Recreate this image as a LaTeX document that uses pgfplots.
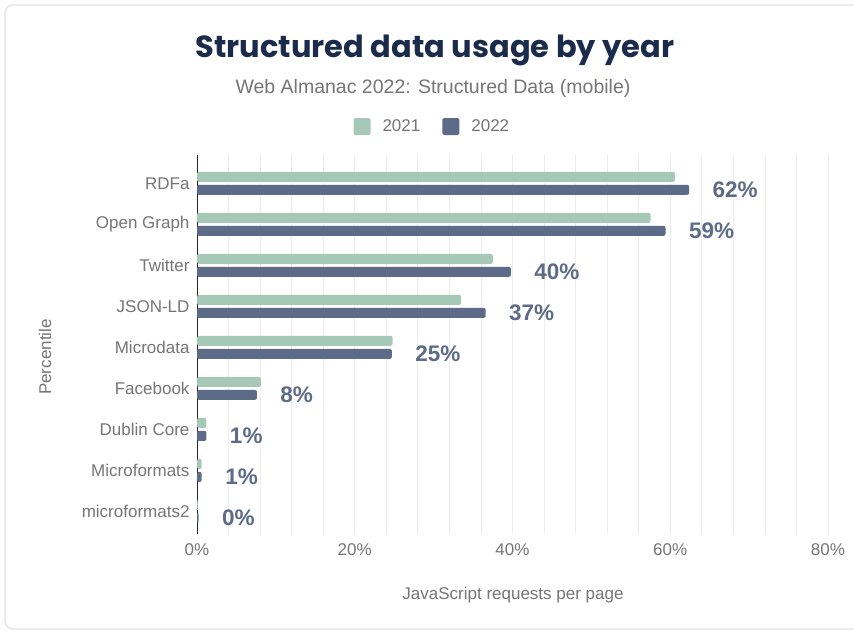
\documentclass[border=0pt]{standalone}
\usepackage{pgfplots}
\pgfplotsset{compat=1.18}
\usepackage{fontspec}
\setmainfont{Liberation Sans}
\newfontfamily\titlefont{Poppins}
\definecolor{c2021}{HTML}{A6C8B7}
\definecolor{c2022}{HTML}{5C6B87}
\definecolor{titlec}{HTML}{1A2B4B}
\definecolor{txtgray}{HTML}{757575}
\definecolor{gridc}{HTML}{EDEDED}
\begin{document}
\begin{tikzpicture}
\useasboundingbox (0pt,0pt) rectangle (854pt,632pt);
\draw[black!12, line width=1.2pt, rounded corners=8pt] (5pt,3pt) rectangle (880pt,627pt);
\node[font=\titlefont\bfseries\fontsize{30.5}{36}\selectfont, text=titlec] at (435pt,582pt) {Structured data usage by year};
\node[font=\fontsize{19.5}{23}\selectfont, text=txtgray] at (433pt,544pt) {Web Almanac 2022: Structured Data (mobile)};
\node[font=\fontsize{17}{20}\selectfont, text=txtgray] at (513pt,37pt) {JavaScript requests per page};
\node[font=\fontsize{17}{20}\selectfont, text=txtgray, rotate=90] at (45pt,275pt) {Percentile};
\begin{axis}[
  at={(197pt,98pt)}, anchor=south west,
  scale only axis, width=631pt, height=379pt,
  xbar, bar width=10pt,
  xmin=0, xmax=80, ymin=-0.55, ymax=8.69,
  xtick={0,20,40,60,80},
  minor x tick num=4,
  xmajorgrids, xminorgrids,
  major grid style={gridc, line width=0.8pt},
  minor grid style={gridc, line width=0.8pt},
  major tick length=0pt, minor tick length=0pt,
  axis y line*=left, axis x line*=bottom,
  x axis line style={draw=none},
  y axis line style={black!85, line width=0.9pt},
  ytick={0,...,8},
  yticklabels={microformats2,Microformats,Dublin Core,Facebook,Microdata,JSON-LD,Twitter,Open Graph,RDFa},
  xticklabel={\pgfmathprintnumber{\tick}\%},
  /pgf/number format/assume math mode=true,
  tick label style={font=\fontsize{17}{20}\selectfont, text=txtgray},
  xticklabel style={yshift=-6pt},
  yticklabel style={xshift=-4pt},
  legend style={at={(0.373,1.075)}, anchor=center, draw=none, fill=none, legend columns=2,
    font=\fontsize{17}{20}\selectfont, text=txtgray,
    /tikz/every odd column/.append style={column sep=10pt},
    /tikz/every even column/.append style={column sep=20pt}},
  legend image code/.code={\path[#1, draw=none, rounded corners=1.5pt] (0pt,-8.5pt) rectangle (17pt,8.5pt);},
  clip=false,
]
\addplot[fill=c2021, draw=none, bar shift=6.5pt, rounded corners=2pt] coordinates {
(60.6,8) (57.5,7) (37.5,6) (33.5,5) (24.8,4) (8.1,3) (1.2,2) (0.6,1) (0.1,0)};
\addlegendentry{2021}
\addplot[fill=c2022, draw=none, bar shift=-6.5pt, rounded corners=2pt,
  nodes near coords={\pgfmathprintnumber[fixed,precision=0]{\pgfplotspointmeta}\%},
  nodes near coords style={anchor=west, xshift=20pt, font=\bfseries\fontsize{22.5}{26}\selectfont, text=c2022},
  point meta=x] coordinates {
(62.4,8) (59.4,7) (39.8,6) (36.6,5) (24.7,4) (7.6,3) (1.2,2) (0.6,1) (0.2,0)};
\addlegendentry{2022}
\end{axis}
\end{tikzpicture}
\end{document}
